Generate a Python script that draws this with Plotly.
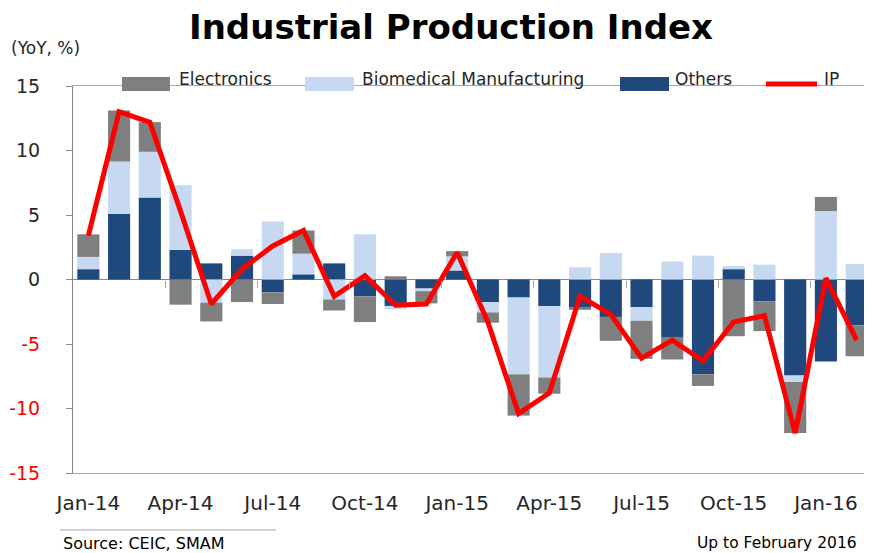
import plotly.graph_objects as go

months = ["Jan-14","Feb-14","Mar-14","Apr-14","May-14","Jun-14","Jul-14","Aug-14","Sep-14","Oct-14",
          "Nov-14","Dec-14","Jan-15","Feb-15","Mar-15","Apr-15","May-15","Jun-15","Jul-15","Aug-15",
          "Sep-15","Oct-15","Nov-15","Dec-15","Jan-16","Feb-16"]
others = [0.8, 5.1, 6.35, 2.3, 1.25, 1.85, -1.0, 0.4, 1.25, -1.3,
          -2.05, -0.7, 0.7, -1.75, -1.4, -2.05, -2.2, -2.9, -2.15, -4.45,
          -7.35, 0.8, -1.7, -7.45, -6.35, -3.55]
biomedical = [0.95, 4.05, 3.55, 5.0, -1.8, 0.5, 4.5, 1.6, -1.55, 3.5,
              -0.25, -0.2, 1.1, -0.8, -5.95, -5.55, 0.95, 2.05, -1.05, 1.4,
              1.85, 0.25, 1.15, -0.5, 5.3, 1.2]
electronics = [1.75, 3.95, 2.3, -1.95, -1.45, -1.75, -0.9, 1.8, -0.85, -2.0,
               0.25, -0.95, 0.4, -0.8, -3.2, -1.25, -0.15, -1.85, -2.95, -1.75,
               -0.9, -4.4, -2.3, -3.95, 1.1, -2.4]
ip = [3.4, 13.0, 12.2, 5.3, -1.9, 0.8, 2.6, 3.8, -1.3, 0.3,
      -2.0, -1.9, 2.1, -3.3, -10.4, -8.8, -1.3, -2.7, -6.1, -4.7,
      -6.3, -3.3, -2.8, -11.9, 0.1, -4.7]
x_labels = ["Jan-14","Apr-14","Jul-14","Oct-14","Jan-15","Apr-15","Jul-15","Oct-15","Jan-16"]
y_ticks = [15, 10, 5, 0, -5, -10, -15]

C_ELEC = "#7F7F7F"
C_BIO = "#C6D9F1"
C_OTH = "#1F497D"
C_IP = "#FF0000"
FONT = "DejaVu Sans, sans-serif"

# page body has an 8px margin: figure is drawn 8px right/down of the page origin
OFF = 8
W, H = 872 - OFF, 553 - OFF
L, R, T = 73 - OFF, 0, 86 - OFF
B = H - (473 - OFF)
PW, PH = W - L - R, H - T - B

def px_x(px):
    return (px - OFF - L) / PW

def px_y(py):
    return (H - B - (py - OFF)) / PH

idx = list(range(len(months)))
fig = go.Figure()
for name, vals, col in [("Others", others, C_OTH), ("Biomedical Manufacturing", biomedical, C_BIO),
                        ("Electronics", electronics, C_ELEC)]:
    fig.add_trace(go.Bar(x=idx, y=vals, name=name, marker=dict(color=col, line=dict(width=0)),
                         showlegend=False))
fig.add_trace(go.Scatter(x=idx, y=ip, name="IP", mode="lines",
                         line=dict(color=C_IP, width=5), showlegend=False))

ytext = [str(v) if v >= 0 else f'<span style="color:#FF0000">{v}</span>' for v in y_ticks]

fig.update_layout(
    width=W, height=H, margin=dict(l=L, r=R, t=T, b=B, autoexpand=False),
    paper_bgcolor="white", plot_bgcolor="white",
    barmode="relative", bargap=0.28,
    font=dict(family=FONT, color="#262626"),
    xaxis=dict(range=[-0.5, len(months) - 0.5], tickmode="array",
               tickvals=[months.index(m) for m in x_labels], ticktext=x_labels,
               ticks="", showgrid=False, zeroline=False,
               showline=True, mirror=True, linecolor="#A6A6A6", linewidth=1,
               tickfont=dict(size=20, color="#262626"), ticklabelstandoff=12),
    xaxis2=dict(overlaying="x", anchor="free", position=0.5,
                range=[-0.5, len(months) - 0.5], tickmode="array",
                tickvals=[i - 0.5 for i in range(3, len(months), 3)],
                ticks="outside", ticklen=7, tickcolor="#A6A6A6", tickwidth=1,
                showticklabels=False, showgrid=False, zeroline=False, showline=False),
    yaxis=dict(range=[-15, 15], tickmode="array", tickvals=y_ticks, ticktext=ytext,
               ticks="outside", ticklen=6, tickcolor="#868686",
               showline=True, linecolor="#868686", linewidth=1,
               showgrid=False, zeroline=True, zerolinecolor="#868686", zerolinewidth=1,
               tickfont=dict(size=19, color="#262626"), ticklabelstandoff=22),
)
fig.add_trace(go.Scatter(x=[0], y=[0], xaxis="x2", mode="markers",
                         marker=dict(opacity=0), showlegend=False, hoverinfo="skip"))

shapes = []
annos = []
# custom legend
leg = [("rect", C_ELEC, 122, 170, "Electronics", 177),
       ("rect", C_BIO, 305, 354, "Biomedical Manufacturing", 360),
       ("rect", C_OTH, 620, 669, "Others", 673),
       ("line", C_IP, 766, 817, "IP", 822)]
for kind, col, x0, x1, txt, tx in leg:
    if kind == "rect":
        shapes.append(dict(type="rect", xref="paper", yref="paper", x0=px_x(x0), x1=px_x(x1),
                           y0=px_y(91), y1=px_y(77), fillcolor=col, line=dict(width=0)))
    else:
        shapes.append(dict(type="line", xref="paper", yref="paper", x0=px_x(x0), x1=px_x(x1),
                           y0=px_y(84), y1=px_y(84), line=dict(color=col, width=5)))
    annos.append(dict(text=txt, xref="paper", yref="paper", x=px_x(tx), y=px_y(79),
                      xanchor="left", yanchor="middle", showarrow=False,
                      font=dict(size=17, color="#262626")))

annos.append(dict(text="<b>Industrial Production Index</b>", xref="paper", yref="paper",
                  x=px_x(451), y=px_y(27), xanchor="center", yanchor="middle", showarrow=False,
                  font=dict(size=34, color="black")))
annos.append(dict(text="(YoY, %)", xref="paper", yref="paper", x=px_x(9), y=px_y(48),
                  xanchor="left", yanchor="middle", showarrow=False,
                  font=dict(size=17, color="#262626")))
annos.append(dict(text="Source: CEIC, SMAM", xref="paper", yref="paper", x=px_x(61), y=px_y(543),
                  xanchor="left", yanchor="middle", showarrow=False,
                  font=dict(size=16, color="black")))
annos.append(dict(text="Up to February 2016", xref="paper", yref="paper", x=px_x(859), y=px_y(543),
                  xanchor="right", yanchor="middle", showarrow=False,
                  font=dict(size=15.5, color="black")))
shapes.append(dict(type="line", xref="paper", yref="paper", x0=px_x(60), x1=px_x(276),
                   y0=px_y(530), y1=px_y(530), line=dict(color="#A6A6A6", width=1)))

fig.update_layout(shapes=shapes, annotations=annos)
fig.write_html("out.html")
